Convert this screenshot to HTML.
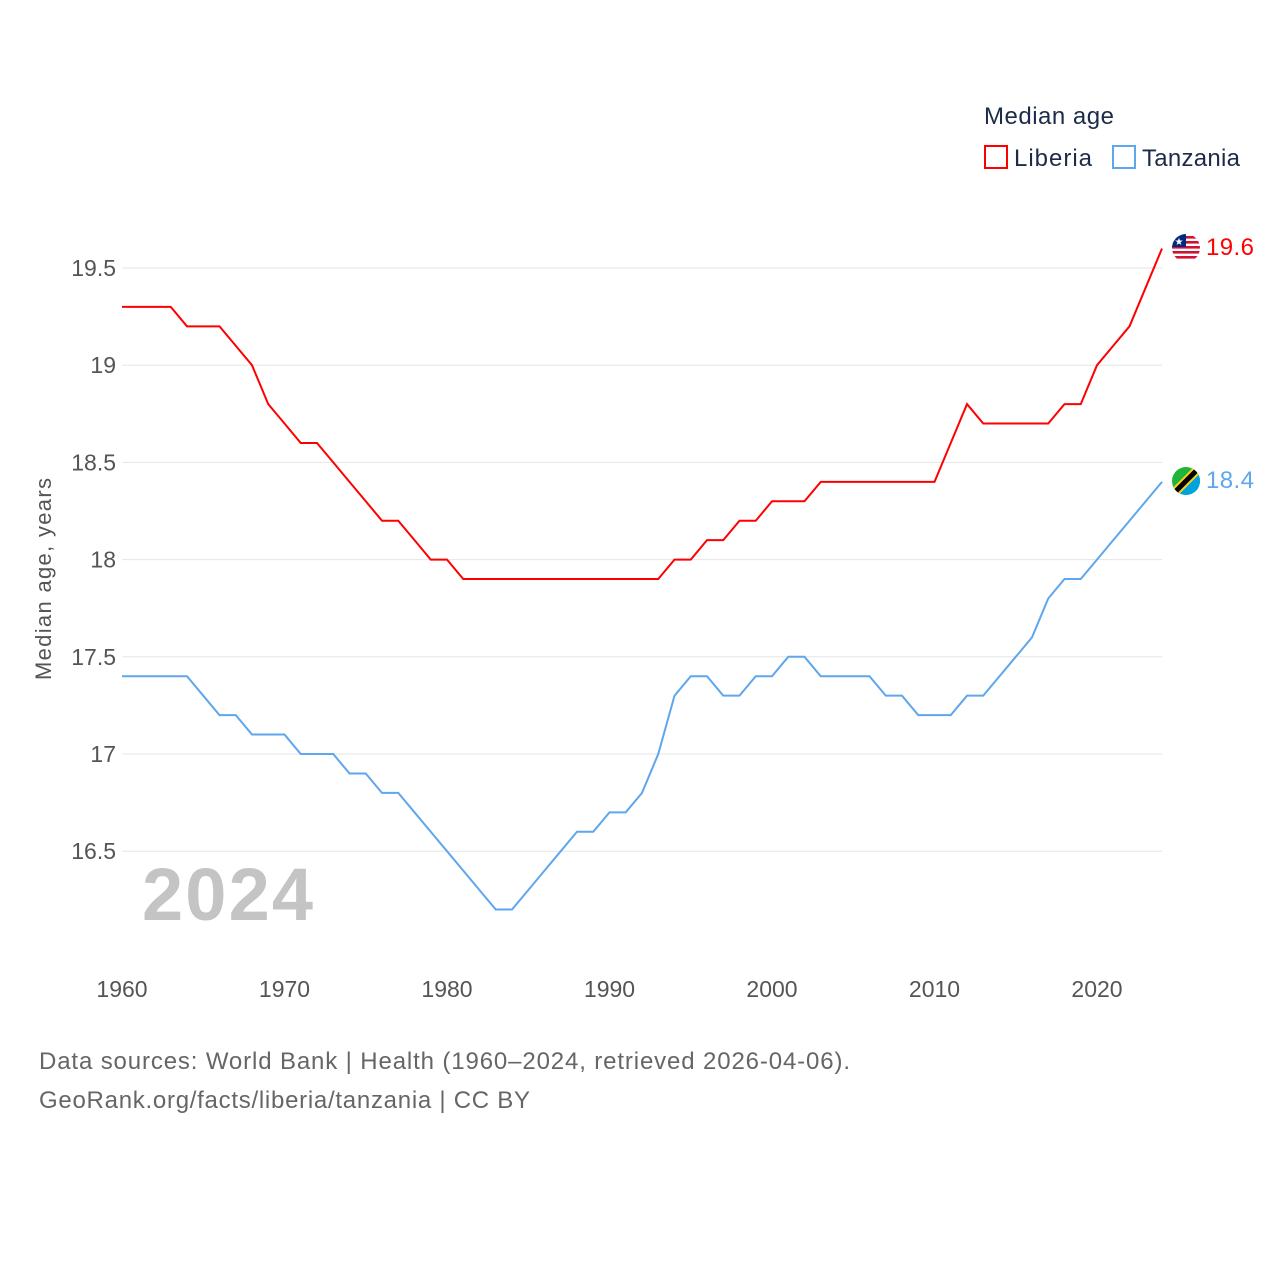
<!DOCTYPE html>
<html><head><meta charset="utf-8"><style>
body{margin:0;background:#fff;}
svg text{font-family:"Liberation Sans",sans-serif;}
</style></head><body>
<svg width="1280" height="1280" xmlns="http://www.w3.org/2000/svg">
<text x="984" y="124" font-size="24" fill="#1d2b4a" textLength="130">Median age</text>
<g><rect x="985" y="146" width="22" height="22" fill="none" stroke="#ff0000" stroke-width="2"/><text x="1014" y="166" font-size="24" fill="#1d2b4a" textLength="78">Liberia</text></g>
<g><rect x="1113" y="146" width="22" height="22" fill="none" stroke="#5ea6ee" stroke-width="2"/><text x="1142" y="166" font-size="24" fill="#1d2b4a" textLength="98">Tanzania</text></g>
<g id="grid"></g>
<g id="yt"></g>
<g id="xt"></g>
<text transform="translate(51,579) rotate(-90)" text-anchor="middle" font-size="22" fill="#555" textLength="202">Median age, years</text>
<text x="142" y="920" font-size="74" font-weight="bold" fill="#c4c4c4" textLength="171">2024</text>
<g id="lines"></g>
<g>
<clipPath id="c1"><circle cx="1186" cy="248" r="14"/></clipPath>
<g clip-path="url(#c1)"><rect x="1172" y="234" width="28" height="28" fill="#fff"/>
<rect x="1172" y="236" width="28" height="2.6" fill="#d21034"/><rect x="1172" y="241" width="28" height="2.6" fill="#d21034"/><rect x="1172" y="246" width="28" height="2.6" fill="#d21034"/><rect x="1172" y="251" width="28" height="2.6" fill="#d21034"/><rect x="1172" y="256" width="28" height="2.6" fill="#d21034"/>
<rect x="1172" y="234" width="14" height="13" fill="#002b7f"/><text x="1179" y="245" font-size="10" fill="#fff" text-anchor="middle">★</text></g></g>
<g>
<clipPath id="c2"><circle cx="1186" cy="481" r="14"/></clipPath>
<g clip-path="url(#c2)"><rect x="1172" y="467" width="28" height="28" fill="#1eb53a"/><polygon points="1200,467 1200,495 1172,495" fill="#00a3dd"/>
<line x1="1200" y1="467" x2="1172" y2="495" stroke="#fcd116" stroke-width="9"/><line x1="1200" y1="467" x2="1172" y2="495" stroke="#000" stroke-width="5"/></g></g>
<text x="1206" y="255" font-size="24" fill="#ff0000" textLength="48">19.6</text>
<text x="1206" y="488" font-size="24" fill="#5ea6ee" textLength="48">18.4</text>
<text x="39" y="1069" font-size="24" fill="#666" textLength="811">Data sources: World Bank | Health (1960–2024, retrieved 2026-04-06).</text>
<text x="39" y="1108" font-size="24" fill="#666" textLength="491">GeoRank.org/facts/liberia/tanzania | CC BY</text>
</svg>
<script>
const years=[];for(let y=1960;y<=2024;y++)years.push(y);
const liberia=[19.3,19.3,19.3,19.3,19.2,19.2,19.2,19.1,19.0,18.8,18.7,18.6,18.6,18.5,18.4,18.3,18.2,18.2,18.1,18.0,18.0,17.9,17.9,17.9,17.9,17.9,17.9,17.9,17.9,17.9,17.9,17.9,17.9,17.9,18.0,18.0,18.1,18.1,18.2,18.2,18.3,18.3,18.3,18.4,18.4,18.4,18.4,18.4,18.4,18.4,18.4,18.6,18.8,18.7,18.7,18.7,18.7,18.7,18.8,18.8,19.0,19.1,19.2,19.4,19.6];
const tanzania=[17.4,17.4,17.4,17.4,17.4,17.3,17.2,17.2,17.1,17.1,17.1,17.0,17.0,17.0,16.9,16.9,16.8,16.8,16.7,16.6,16.5,16.4,16.3,16.2,16.2,16.3,16.4,16.5,16.6,16.6,16.7,16.7,16.8,17.0,17.3,17.4,17.4,17.3,17.3,17.4,17.4,17.5,17.5,17.4,17.4,17.4,17.4,17.3,17.3,17.2,17.2,17.2,17.3,17.3,17.4,17.5,17.6,17.8,17.9,17.9,18.0,18.1,18.2,18.3,18.4];
const yTicks=[16.5,17,17.5,18,18.5,19,19.5];
const xTicks=[1960,1970,1980,1990,2000,2010,2020];
const X=v=>122+(v-1960)*16.25;
const Y=v=>754-(v-17)*194.4;
const NS="http://www.w3.org/2000/svg";
const g=document.getElementById('grid'),yt=document.getElementById('yt'),xt=document.getElementById('xt'),L=document.getElementById('lines');
yTicks.forEach(t=>{
 const l=document.createElementNS(NS,'line');
 l.setAttribute('x1',122);l.setAttribute('x2',1162);l.setAttribute('y1',Y(t));l.setAttribute('y2',Y(t));
 l.setAttribute('stroke','#e6e6e6');
 
 
 g.appendChild(l);
 const tx=document.createElementNS(NS,'text');
 tx.setAttribute('x',116);tx.setAttribute('y',Y(t)+8);tx.setAttribute('text-anchor','end');
 tx.setAttribute('font-size','23');tx.setAttribute('fill','#555');tx.textContent=t;
 
 
 yt.appendChild(tx);
});
xTicks.forEach(t=>{
 const tx=document.createElementNS(NS,'text');
 tx.setAttribute('x',X(t));tx.setAttribute('y',997);tx.setAttribute('text-anchor','middle');
 tx.setAttribute('font-size','23');tx.setAttribute('fill','#555');tx.textContent=t;
 
 
 xt.appendChild(tx);
});
function line(vals,color,name){
 const p=document.createElementNS(NS,'polyline');
 p.setAttribute('points',vals.map((v,i)=>X(years[i])+','+Y(v)).join(' '));
 p.setAttribute('fill','none');p.setAttribute('stroke',color);p.setAttribute('stroke-width','2');
 
 
 L.appendChild(p);
}
line(tanzania,'#5ea6ee','tanzania-line');
line(liberia,'#ff0000','liberia-line');
</script>
</body></html>
